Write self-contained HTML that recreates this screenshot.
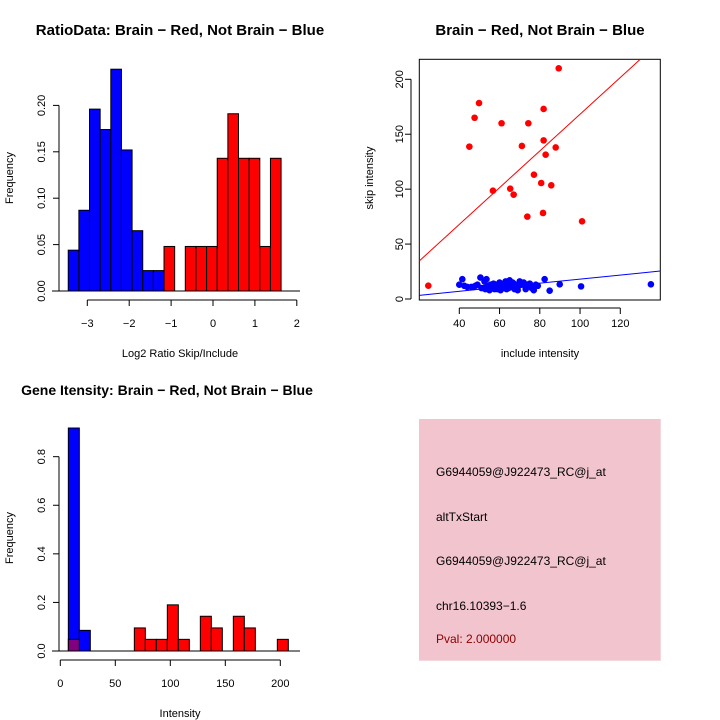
<!DOCTYPE html>
<html><head><meta charset="utf-8"><style>
html,body{margin:0;padding:0;background:#fff}
svg{display:block;font-family:"Liberation Sans",sans-serif}
</style></head><body>
<svg id="s" width="720" height="720" viewBox="0 0 720 720"></svg>
<script>
// ---- panel 1: ratio histogram ----
const ratioBinStart = -3.455, ratioBinWidth = 0.254;
const ratioBlue = [0.044,0.087,0.196,0.174,0.239,0.152,0.065,0.022,0.022];
const ratioRed = [0,0,0,0,0,0,0,0,0,0.048,0,0.048,0.048,0.048,0.143,0.191,0.143,0.143,0.048,0.143];
const ratioXTicks = [-3,-2,-1,0,1,2];
const ratioYTicks = [0,0.05,0.10,0.15,0.20];
const ratioYLabels = ["0.00","0.05","0.10","0.15","0.20"];
// ---- panel 2: scatter ----
const redInclude = [24.6,49.8,47.6,45.0,61.0,74.3,81.9,89.4,81.9,71.1,87.9,82.9,77.1,56.7,65.3,67.0,80.7,85.7,73.8,81.6,101];
const redSkip = [12.1,178.4,165,138.7,160,160,173,210,144.4,139.3,138,131.4,113.2,98.6,100.4,95,105.6,103.5,75,78.3,70.7];
const blueInclude = [40,41.5,42.5,47,49,50.5,51,53,53.5,54,55,56,57,57.5,58,59,60,60.5,61,62,62.5,63,64,64.5,65,66,67,67.5,68,69,70,71,72,73,73.5,75,76,77,78,79,82.4,84.9,89.9,100.5,135.2,44,48,52,55.5,58.5,63.5,66.5,69.5,74,52.5,46];
const blueSkip = [13,18,12,11,13,19.5,10,9,18,12,8,11,14,9,13,9,15,8,11,14,10,16,12,10,17,11,14,9,12,8,16,13,15,9,12,14,10,8,13,12,18,7.6,13.4,11.5,13.4,11,12,10,13,11,9,15,12,13,16,11];
const redFit = [1.0,1.672], blueFit = [-0.4,0.185];
const scXTicks = [40,60,80,100,120];
const scYTicks = [0,50,100,150,200];
// ---- panel 3: intensity histogram ----
const intBinStart = 7.3, intBinWidth = 10;
const intBlue = [0.918,0.085];
const intRed = [0.048,0,0,0,0,0,0.095,0.048,0.048,0.19,0.048,0,0.143,0.095,0,0.143,0.095,0,0,0.048];
const intXTicks = [0,50,100,150,200];
const intYTicks = [0,0.2,0.4,0.6,0.8];
const intYLabels = ["0.0","0.2","0.4","0.6","0.8"];

const S=document.getElementById('s');
function el(tag,attrs,name,txt){const e=document.createElementNS('http://www.w3.org/2000/svg',tag);for(const k in attrs)e.setAttribute(k,attrs[k]);


if(txt!==undefined)e.textContent=txt;S.appendChild(e);return e;}
function line(x1,y1,x2,y2,name,c,w){return el('line',{x1,y1,x2,y2,stroke:c||'#000','stroke-width':w||1},name);}
function txt(x,y,t,name,o){o=o||{};const a={x,y,'font-size':o.fs||11,'text-anchor':o.a||'middle',fill:o.fill||'#000'};if(o.b)a['font-weight']='bold';if(o.rot)a.transform='rotate(-90 '+x+' '+y+')';return el('text',a,name,t);}

// panel 1
{const X=v=>87.3+(v+3)*41.9, Y=v=>291-v*928;
ratioBlue.forEach((v,i)=>{const x0=X(ratioBinStart+i*ratioBinWidth),x1=X(ratioBinStart+(i+1)*ratioBinWidth);el('rect',{x:x0,y:Y(v),width:x1-x0,height:Y(0)-Y(v),fill:'#0000ff',stroke:'#000','stroke-width':1},'ratio-bar-blue');});
ratioRed.forEach((v,i)=>{if(v<=0)return;const x0=X(ratioBinStart+i*ratioBinWidth),x1=X(ratioBinStart+(i+1)*ratioBinWidth);el('rect',{x:x0,y:Y(v),width:x1-x0,height:Y(0)-Y(v),fill:'#ff0000',stroke:'#000','stroke-width':1},'ratio-bar-red');});
line(52,291,300,291,'ratio-baseline');
line(X(-3),300,X(2),300,'ratio-x-axis');
ratioXTicks.forEach(t=>{line(X(t),300,X(t),306,'ratio-x-tick');txt(X(t),327,String(t).replace('-','\u2212'),'ratio-x-tick-label');});
line(59,Y(0),59,Y(0.2),'ratio-y-axis');
ratioYTicks.forEach((t,i)=>{line(53,Y(t),59,Y(t),'ratio-y-tick');txt(45,Y(t),ratioYLabels[i],'ratio-y-tick-label',{rot:1});});
txt(180,35,'RatioData: Brain \u2212 Red, Not Brain \u2212 Blue','ratio-title',{fs:15,b:1});
txt(180,357,'Log2 Ratio Skip/Include','ratio-x-title');
txt(13,178,'Frequency','ratio-y-title',{rot:1});}

// panel 2
{const X=v=>459.3+(v-40)*2.0125, Y=v=>299-v*1.0985;
el('rect',{x:419.3,y:59.3,width:241,height:240.7,fill:'none',stroke:'#000','stroke-width':1},'scatter-frame');
const x0=20.1,x1=139.9;
function fit(f,name,c){let a=x0,b=x1;let ya=f[0]+f[1]*a,yb=f[0]+f[1]*b;const ymax=(299-59.3)/1.0985;if(yb>ymax){b=(ymax-f[0])/f[1];yb=ymax;}line(X(a),Y(ya),X(b),Y(yb),name,c,1);}
fit(redFit,'red-fit-line','#ff0000');fit(blueFit,'blue-fit-line','#0000ff');
blueInclude.forEach((v,i)=>el('circle',{cx:X(v),cy:Y(blueSkip[i]),r:3.3,fill:'#0000ff'},'blue-point'));
redInclude.forEach((v,i)=>el('circle',{cx:X(v),cy:Y(redSkip[i]),r:3.3,fill:'#ff0000'},'red-point'));
line(X(40),308,X(120),308,'scatter-x-axis');
scXTicks.forEach(t=>{line(X(t),308,X(t),314,'scatter-x-tick');txt(X(t),327,String(t),'scatter-x-tick-label');});
line(411,Y(0),411,Y(200),'scatter-y-axis');
scYTicks.forEach(t=>{line(405,Y(t),411,Y(t),'scatter-y-tick');txt(403,Y(t),String(t),'scatter-y-tick-label',{rot:1});});
txt(540,35,'Brain \u2212 Red, Not Brain \u2212 Blue','scatter-title',{fs:15,b:1});
txt(540,357,'include intensity','scatter-x-title');
txt(373,178,'skip intensity','scatter-y-title',{rot:1});}

// panel 3
{const X=v=>60.3+v*1.1, Y=v=>651-v*242.9;
intBlue.forEach((v,i)=>{const a=X(intBinStart+i*intBinWidth),b=X(intBinStart+(i+1)*intBinWidth);el('rect',{x:a,y:Y(v),width:b-a,height:Y(0)-Y(v),fill:'#0000ff',stroke:'#000','stroke-width':1},'intensity-bar-blue');});
intRed.forEach((v,i)=>{if(v<=0)return;const a=X(intBinStart+i*intBinWidth),b=X(intBinStart+(i+1)*intBinWidth);el('rect',{x:a,y:Y(v),width:b-a,height:Y(0)-Y(v),fill:i<intBlue.length?'#800080':'#ff0000',stroke:'#000','stroke-width':1},'intensity-bar-red');});
line(52,651,300,651,'intensity-baseline');
line(X(0),660,X(200),660,'intensity-x-axis');
intXTicks.forEach(t=>{line(X(t),660,X(t),666,'intensity-x-tick');txt(X(t),687,String(t),'intensity-x-tick-label');});
line(59,Y(0),59,Y(0.8),'intensity-y-axis');
intYTicks.forEach((t,i)=>{line(53,Y(t),59,Y(t),'intensity-y-tick');txt(45,Y(t),intYLabels[i],'intensity-y-tick-label',{rot:1});});
txt(167,395,'Gene Itensity: Brain \u2212 Red, Not Brain \u2212 Blue','intensity-title',{fs:14,b:1});
txt(180,717,'Intensity','intensity-x-title');
txt(13,538,'Frequency','intensity-y-title',{rot:1});}

// panel 4: info box
el('rect',{x:419,y:419,width:241.7,height:241.7,fill:'#f2c4ce'},'info-box');
txt(436,476,'G6944059@J922473_RC@j_at','info-probe-id',{a:'start',fs:12});
txt(436,521,'altTxStart','info-event-type',{a:'start',fs:12});
txt(436,565,'G6944059@J922473_RC@j_at','info-probe-id-2',{a:'start',fs:12});
txt(436,610,'chr16.10393\u22121.6','info-location',{a:'start',fs:12});
txt(436,643,'Pval: 2.000000','info-pval',{a:'start',fs:12,fill:'#8b0000'});
</script>
</body></html>
